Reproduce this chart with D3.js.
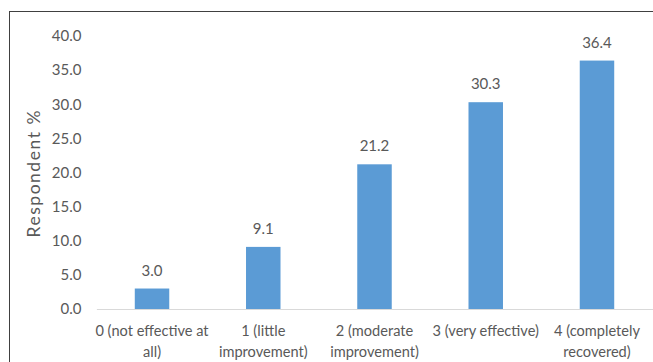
<!DOCTYPE html>
<html>
<head>
<meta charset="utf-8">
<script src="https://cdn.jsdelivr.net/npm/d3@7"></script>
<style>
  html, body { margin: 0; padding: 0; background: #ffffff; }
  svg { display: block; }
  text { font-family: Lato, "Open Sans", sans-serif; fill: #595959; }
</style>
</head>
<body>
<svg id="chart" width="653" height="362"></svg>
<script>
// Treatment effectiveness ratings and share of respondents
const categories = ["0", "1", "2", "3", "4"];
const categoryLines = [
  ["0 (not effective at", "all)"],
  ["1 (little", "improvement)"],
  ["2 (moderate", "improvement)"],
  ["3 (very effective)"],
  ["4 (completely", "recovered)"]
];
const respondentPct = [3.0, 9.1, 21.2, 30.3, 36.4];
const yTicks = [0, 5, 10, 15, 20, 25, 30, 35, 40];
const yTitle = "Respondent %";

const svg = d3.select("#chart");
const W = 653, H = 362;

// chart frame
svg.append("rect")
  .attr("x", 9.5).attr("y", 11.5)
  .attr("width", W).attr("height", H)
  .attr("fill", "none")
  .attr("stroke", "#404040")
  .attr("stroke-width", 1);

const plot = { left: 96.4, right: 652.6, top: 36, bottom: 309 };

const x = d3.scaleBand()
  .domain(categories)
  .range([plot.left, plot.right])
  .paddingInner(0.69)
  .paddingOuter(0.345);

const y = d3.scaleLinear()
  .domain([0, 40])
  .range([plot.bottom, plot.top]);

// y-axis tick labels (no axis line, no tick marks)
const yAxis = svg.append("g")
  .attr("transform", `translate(${plot.left},0)`)
  .call(d3.axisLeft(y).tickValues(yTicks).tickFormat(d3.format(".1f")).tickSize(0).tickPadding(15));
yAxis.select(".domain").remove();
yAxis.selectAll("text")
  .style("font-family", "Lato, 'Open Sans', sans-serif")
  .style("font-size", "15px")
  .attr("fill", "#595959");

// y-axis title
svg.append("text")
  .attr("transform", `translate(40,174) rotate(-90)`)
  .attr("text-anchor", "middle")
  .style("font-size", "17.5px")
  .attr("textLength", 127)
  .attr("lengthAdjust", "spacing")
  .text(yTitle);

// bars
svg.append("g")
  .selectAll("rect")
  .data(respondentPct)
  .join("rect")
  .attr("x", (d, i) => x(categories[i]))
  .attr("y", d => y(d))
  .attr("width", x.bandwidth())
  .attr("height", d => y(0) - y(d))
  .attr("fill", "#5b9bd5");

// value labels
svg.append("g")
  .selectAll("text")
  .data(respondentPct)
  .join("text")
  .attr("x", (d, i) => x(categories[i]) + x.bandwidth() / 2)
  .attr("y", d => y(d) - 13)
  .attr("text-anchor", "middle")
  .style("font-size", "15px")
  .text(d => d3.format(".1f")(d));

// category axis line
const xAxis = svg.append("g")
  .attr("transform", `translate(0,${plot.bottom})`)
  .call(d3.axisBottom(x).tickSize(0).tickFormat(""));
xAxis.select(".domain").attr("stroke", "#d9d9d9").attr("stroke-width", 1);

// category labels (wrapped)
const catLabels = svg.append("g")
  .selectAll("text")
  .data(categories)
  .join("text")
  .attr("text-anchor", "middle")
  .style("font-size", "14.6px")
  .attr("x", d => x(d) + x.bandwidth() / 2)
  .attr("y", plot.bottom + 27);
catLabels.each(function (d, i) {
  const t = d3.select(this);
  categoryLines[i].forEach((line, j) => {
    t.append("tspan")
      .attr("x", x(d) + x.bandwidth() / 2)
      .attr("dy", j === 0 ? 0 : 21)
      .text(line);
  });
});
</script>
</body>
</html>
